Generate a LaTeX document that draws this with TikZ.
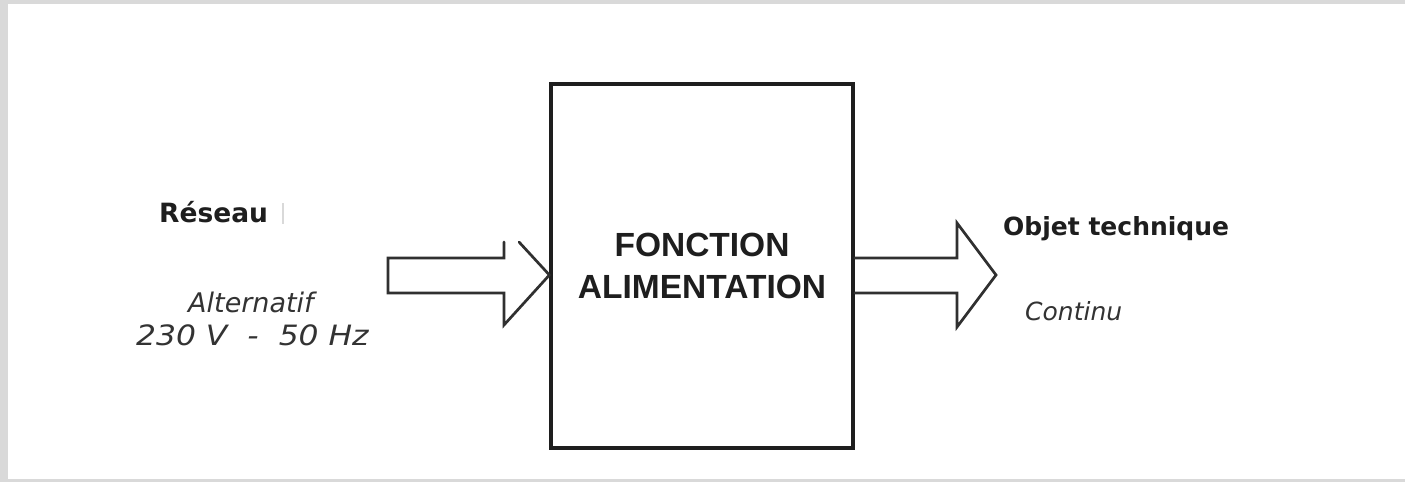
\documentclass[tikz,border=0pt]{standalone}
\usepackage{fontspec}
\setmainfont{Liberation Sans}
\newfontfamily\boxfont{Liberation Sans}
\newfontfamily\labfont{DejaVu Sans}
\newfontfamily\widefont{DejaVu Sans}[FakeStretch=1.12]
\definecolor{bgrey}{HTML}{D9D9D9}
\definecolor{ink}{HTML}{1E1E1E}
\definecolor{noteink}{HTML}{333333}
\tikzset{
  frame/.style={draw=ink, line width=3.2pt},
  flow/.style={draw=ink!92, line width=2.7pt, line join=miter, line cap=round},
  head/.style={font=\labfont\bfseries\fontsize{26.5}{30}\selectfont, text=ink, inner sep=0pt, anchor=base west},
  note/.style={font=\labfont\itshape\fontsize{27}{30}\selectfont, text=noteink, inner sep=0pt, anchor=base west},
}
\begin{document}
\begin{tikzpicture}[x=1pt,y=-1pt]
\useasboundingbox (0,0) rectangle (1405,482);
\fill[bgrey] (0,0) rectangle (1405,482);
\fill[white] (8,4) rectangle (1405,479);

% central block
\node[frame, minimum width=302pt, minimum height=364pt, inner sep=0pt, align=center,
      font=\boxfont\bfseries\fontsize{33.5}{42}\selectfont, text=ink] (box) at (702,266) {FONCTION\\ALIMENTATION};

% labels
\node[head] (reseau) at (159,222) {Réseau};
\draw[black!15, line width=1.5pt] (283,203) -- (283,224);
\node[note] (alt) at (188,312) {Alternatif};
\node[note, font=\widefont\itshape\fontsize{28}{30}\selectfont] (volt) at (136,345) {230 V\hspace{20pt}-\hspace{20pt}50 Hz};
\node[head, font=\labfont\bfseries\fontsize{25}{30}\selectfont] (objet) at (1003,235) {Objet technique};
\node[note, font=\labfont\itshape\fontsize{25}{30}\selectfont] (cont) at (1025,320) {Continu};

% input arrow (tip touches the block)
\coordinate (intip) at (box.west |- 0,275);
\draw[flow] (504,242) -- (504,258) -- (388,258) -- (388,293) -- (504,293) -- (504,325) -- (intip);
\draw[flow] (519,242) -- (intip);

% output arrow
\coordinate (outtip) at (996,275);
\draw[flow] (box.east |- 0,258) -- (957,258) -- (957,223) -- (outtip) -- (957,327) -- (957,293) -- (box.east |- 0,293);
\end{tikzpicture}
\end{document}
